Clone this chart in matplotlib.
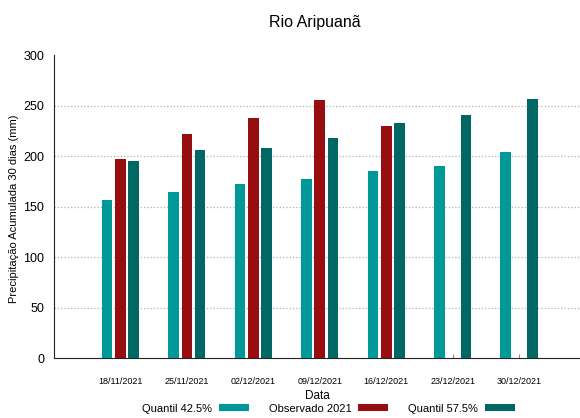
import numpy as np
import matplotlib.pyplot as plt

plt.rcParams['font.family'] = ['Liberation Sans', 'DejaVu Sans']

datas = ['18/11/2021', '25/11/2021', '02/12/2021', '09/12/2021',
         '16/12/2021', '23/12/2021', '30/12/2021']
q425 = [156, 164, 172, 177.5, 185, 190, 204]
obs2021 = [197, 222, 237.5, 255, 229.5, np.nan, np.nan]
q575 = [195, 205.5, 207.5, 217.5, 232.5, 241, 256]

c_q425 = '#009999'
c_obs = '#960e10'
c_q575 = '#006764'

fig = plt.figure(figsize=(5.8, 4.18), dpi=100)
ax = fig.add_axes([0.0931, 0.1435, 0.9164, 0.7249])

x = np.arange(len(datas))
w = 0.16
off = 0.2
b1 = ax.bar(x - off, q425, w, color=c_q425, label='Quantil 42.5%', zorder=3)
b2 = ax.bar(x, obs2021, w, color=c_obs, label='Observado 2021', zorder=3)
b3 = ax.bar(x + off, q575, w, color=c_q575, label='Quantil 57.5%', zorder=3)

ax.set_xlim(-1, 7)
ax.set_ylim(0, 300)
ax.set_yticks(range(0, 301, 50))
ax.set_xticks(x)
ax.set_xticklabels(datas, fontsize=6.5)
ax.tick_params(axis='x', direction='in', length=3, pad=14, color='#888888')
ax.tick_params(axis='y', length=0, pad=7, labelsize=9)

for yv in range(50, 300, 50):
    ax.axhline(yv, color='#b0b0b0', linestyle=':', linewidth=0.9, zorder=1)

ax.spines['top'].set_visible(False)
ax.spines['right'].set_visible(False)
ax.spines['left'].set_color('#222222')
ax.spines['bottom'].set_color('#222222')

fig.text(0.024, 0.5, 'Precipitação Acumulada 30 dias (mm)', fontsize=8,
         rotation=90, ha='center', va='center')
fig.text(0.548, 0.052, 'Data', fontsize=8.5, ha='center', va='center')
fig.text(0.543, 0.947, 'Rio Aripuanã', fontsize=11.5, ha='center', va='center')

leg = fig.legend(handles=[b1, b2, b3], loc='center', bbox_to_anchor=(0.566, 0.022),
                 ncol=3, frameon=False, markerfirst=False, fontsize=8,
                 handlelength=2.7, handleheight=0.6, columnspacing=1.8,
                 handletextpad=0.6, borderpad=0)

fig.savefig('out.png', dpi=100)
